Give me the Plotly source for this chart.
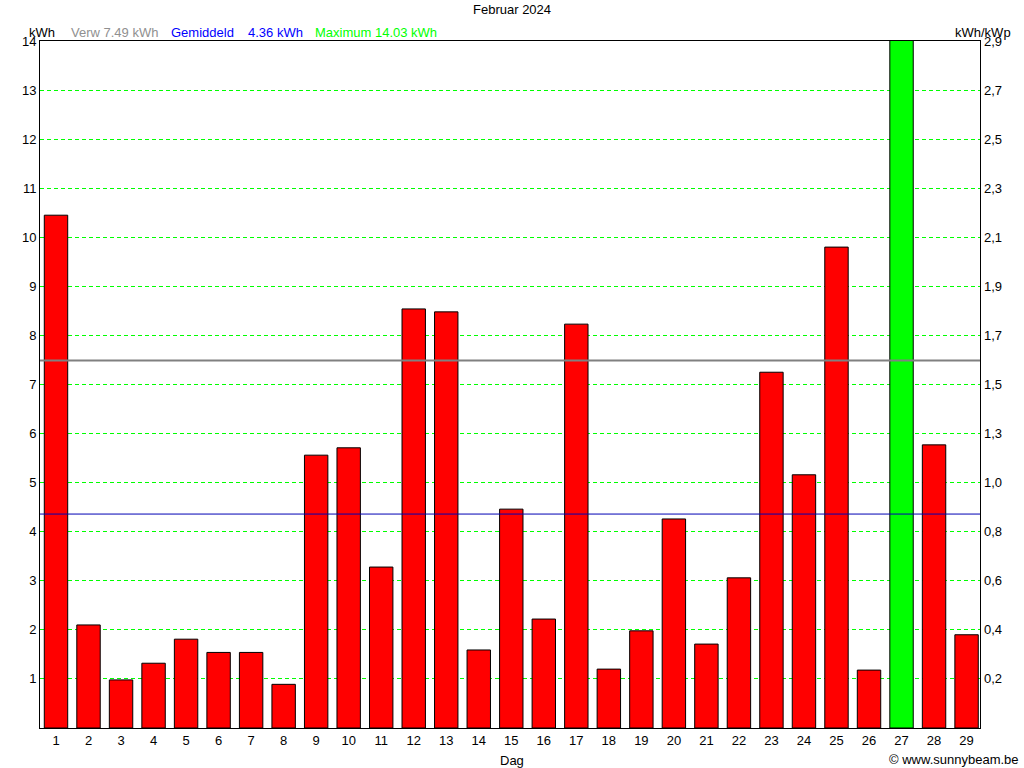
import plotly.graph_objects as go

days = list(range(1, 30))
kwh = [10.45, 2.10, 0.98, 1.32, 1.81, 1.54, 1.54, 0.89, 5.56, 5.71,
       3.28, 8.54, 8.48, 1.59, 4.46, 2.22, 8.23, 1.20, 1.98, 4.26,
       1.71, 3.06, 7.25, 5.16, 9.80, 1.18, 14.03, 5.77, 1.90]
expected = 7.49
average = 4.36
maximum = 14.03
left_ticks = list(range(1, 15))
right_ticktext = ['0,2', '0,4', '0,6', '0,8', '1,0', '1,3', '1,5', '1,7',
                  '1,9', '2,1', '2,3', '2,5', '2,7', '2,9']

W, H = 1024, 768
L, R, T, B = 40, 44, 41, 40
PW = W - L - R
PH = H - T - B


def px(x):
    return (x - L) / PW


def py(y):
    return (H - B - y) / PH


max_i = kwh.index(max(kwh))
colors = ['#00FF00' if i == max_i else '#FF0000' for i in range(len(kwh))]

FONT = "Liberation Sans, Arial, sans-serif"
FS = 13

fig = go.Figure()
fig.add_trace(go.Bar(x=days, y=kwh, width=0.72,
                     marker=dict(color=colors, line=dict(color='black', width=1)),
                     showlegend=False, hoverinfo='x+y'))
fig.add_trace(go.Scatter(x=[None], y=[None], yaxis='y2', showlegend=False))

fig.add_hline(y=expected, line=dict(color='#808080', width=2), layer='above')
fig.add_hline(y=average, line=dict(color='#0000B4', width=1), layer='above')

annots = [
    dict(text='Februar 2024', x=px(512), y=py(9), xanchor='center', color='black'),
    dict(text='kWh', x=px(27), y=py(33), xanchor='left', color='black'),
    dict(text='Verw %.2f kWh' % expected, x=px(69), y=py(33), xanchor='left', color='#909090'),
    dict(text='Gemiddeld', x=px(169), y=py(33), xanchor='left', color='#0000FF'),
    dict(text='%.2f kWh' % average, x=px(246), y=py(33), xanchor='left', color='#0000FF'),
    dict(text='Maximum %.2f kWh' % maximum, x=px(313), y=py(33), xanchor='left', color='#00FF00'),
    dict(text='kWh/kWp', x=px(1013), y=py(33), xanchor='right', color='black'),
    dict(text='Dag', x=px(512), y=py(760), xanchor='center', color='black'),
    dict(text='© www.sunnybeam.be', x=px(1021), y=py(759), xanchor='right', color='black'),
]
for a in annots:
    fig.add_annotation(text=a['text'], x=a['x'], y=a['y'], xref='paper', yref='paper',
                       xanchor=a['xanchor'], yanchor='middle', showarrow=False,
                       font=dict(family=FONT, size=FS, color=a['color']))

fig.update_layout(
    width=W, height=H,
    margin=dict(l=L, r=R, t=T, b=B, pad=0, autoexpand=False),
    paper_bgcolor='white', plot_bgcolor='white',
    font=dict(family=FONT, size=FS, color='black'),
    bargap=0.28,
    xaxis=dict(range=[0.508, 29.413], tickvals=days, ticktext=[str(d) for d in days],
               showgrid=False, zeroline=False, showline=True, mirror=True,
               linecolor='black', linewidth=1, ticks='', fixedrange=True),
    yaxis=dict(range=[0, 14], tickvals=left_ticks, ticktext=[str(v) for v in left_ticks],
               showgrid=True, gridcolor='#00FF00', griddash='4px,3px', gridwidth=1,
               zeroline=False, showline=True, mirror=True, linecolor='black',
               linewidth=1, ticks=''),
    yaxis2=dict(range=[0, 14], overlaying='y', side='right', tickvals=left_ticks,
                ticktext=right_ticktext, showgrid=False, zeroline=False,
                showline=False, ticks='', ticklabelstandoff=3),
)

fig.write_html('out.html', config={'displayModeBar': False},
               post_script="document.body.style.margin='0';document.body.style.padding='0';")
